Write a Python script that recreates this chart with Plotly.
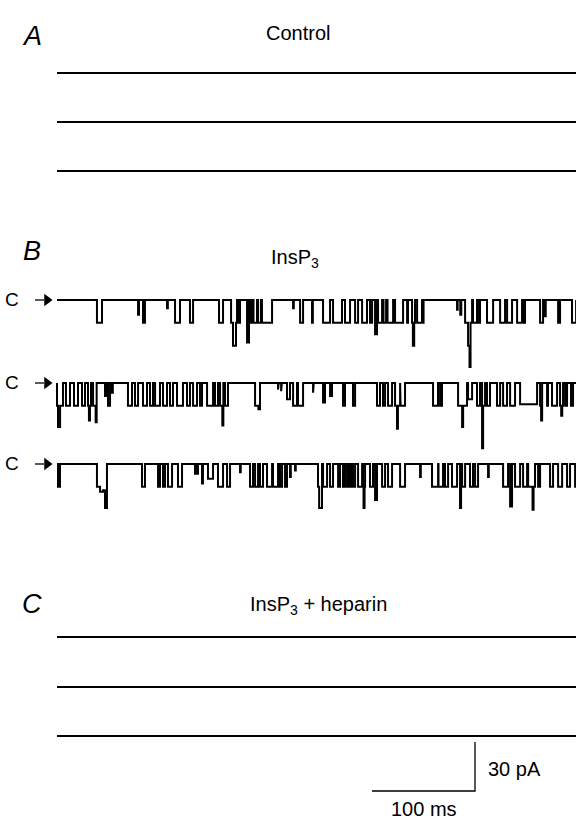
import plotly.graph_objects as go

# ---------------------------------------------------------------------------
# Single-channel current sweeps (ms, pA).  Each opening is (start_ms, end_ms, current_pA);
# the channel is closed (0 pA) between listed openings.
# ---------------------------------------------------------------------------
SWEEP_MS = 504

CONTROL_OPENINGS = [[], [], []]
HEPARIN_OPENINGS = [[], [], []]

INSP3_SWEEP_1 = [
    (38.8, 43.7, -14), (78.7, 79.6, -9), (83.5, 85.4, -14), (106.8, 107.6, -5),
    (114.6, 119.4, -14), (129.1, 132.1, -14), (157.3, 161.2, -14),
    (169.0, 170.9, -14), (170.9, 173.8, -28), (173.8, 174.8, -14),
    (175.8, 177.7, -14), (184.5, 186.4, -26), (187.4, 189.3, -14),
    (190.8, 194.2, -14), (195.2, 198.0, -14), (199.0, 208.8, -14),
    (229.2, 229.9, -5), (236.0, 238.9, -14), (247.6, 248.4, -14),
    (258.3, 265.1, -14), (268.0, 276.7, -14), (279.6, 284.5, -14),
    (289.4, 292.3, -14), (296.2, 301.0, -14), (303.9, 305.9, -14),
    (308.8, 310.7, -21), (311.7, 315.6, -14), (317.0, 319.5, -14),
    (320.9, 326.3, -14), (328.2, 336.0, -14), (339.9, 340.8, -14),
    (344.7, 345.5, -14), (345.5, 346.8, -28), (346.8, 347.6, -14),
    (349.6, 354.4, -14), (354.9, 355.9, -14), (388.4, 389.0, -6),
    (391.5, 392.5, -9), (396.2, 399.1, -14), (399.1, 400.5, -28),
    (400.5, 401.5, -41), (401.5, 403.0, -14), (403.9, 407.8, -14),
    (408.8, 410.7, -14), (417.5, 423.4, -14), (430.2, 435.0, -14),
    (437.0, 441.8, -14), (446.7, 451.5, -14), (452.5, 454.4, -14),
    (469.0, 471.9, -14), (473.8, 474.5, -10), (486.5, 488.4, -14),
    (500.0, 504.0, -14),
]

INSP3_SWEEP_2 = [
    (0.0, 1.0, -14), (1.0, 3.0, -27), (3.0, 5.8, -14), (8.7, 12.6, -14),
    (16.5, 20.4, -14), (24.3, 27.2, -14), (30.1, 31.0, -14), (31.0, 32.0, -23),
    (32.0, 33.0, -14), (35.0, 37.5, -14), (37.5, 38.5, -24), (46.6, 48.5, -8),
    (49.5, 51.5, -14), (53.4, 54.2, -6), (68.9, 72.8, -14), (75.7, 78.7, -14),
    (83.5, 87.4, -14), (90.3, 93.2, -14), (95.2, 100.0, -14), (102.9, 106.8, -14),
    (109.7, 112.6, -14), (116.5, 122.3, -14), (126.2, 129.1, -14),
    (132.1, 135.9, -14), (138.8, 140.8, -14), (145.7, 151.5, -14),
    (153.4, 156.3, -14), (158.3, 160.5, -14), (160.5, 161.5, -26),
    (163.1, 166.0, -14), (192.3, 195.5, -14), (195.5, 197.1, -16),
    (214.6, 215.3, -4), (217.6, 218.3, -5), (223.3, 226.2, -10),
    (229.2, 233.0, -14), (234.0, 238.9, -14), (248.6, 249.3, -6),
    (258.3, 260.2, -12), (265.1, 267.0, -8), (277.7, 279.6, -14),
    (287.4, 289.4, -14), (310.7, 313.6, -14), (316.5, 318.5, -14),
    (321.4, 325.3, -14), (328.2, 330.1, -14), (330.1, 331.0, -28),
    (331.0, 333.1, -14), (333.6, 337.9, -14), (365.1, 369.9, -14),
    (371.9, 373.8, -14), (389.4, 393.3, -14), (393.3, 394.3, -27),
    (394.3, 398.1, -14), (399.1, 403.0, -10), (407.8, 410.7, -14),
    (412.7, 413.7, -40), (413.7, 415.6, -14), (417.5, 420.4, -14),
    (427.2, 430.2, -14), (433.1, 436.9, -14), (439.9, 444.7, -14),
    (449.6, 466.1, -13), (469.0, 470.0, -14), (470.0, 471.0, -23),
    (475.8, 476.7, -14), (480.6, 485.5, -14), (488.4, 489.5, -14),
    (489.5, 490.5, -20), (490.5, 491.3, -14), (493.3, 495.2, -14),
    (499.0, 501.0, -14),
]

INSP3_SWEEP_3 = [
    (1.0, 2.9, -14), (38.8, 41.8, -14), (41.8, 44.7, -17), (44.7, 46.6, -16),
    (46.6, 48.5, -27), (82.5, 85.4, -14), (98.1, 100.0, -14), (102.9, 104.9, -14),
    (107.8, 111.7, -14), (117.5, 121.4, -14), (134.0, 134.7, -6),
    (135.9, 136.9, -6), (140.8, 141.7, -12), (146.6, 151.5, -9),
    (156.3, 161.2, -14), (165.1, 168.0, -14), (177.7, 178.4, -5),
    (187.4, 190.3, -14), (192.3, 195.2, -14), (197.1, 200.0, -14),
    (203.9, 208.8, -14), (209.7, 214.6, -14), (216.5, 218.5, -14),
    (221.4, 223.3, -14), (226.2, 227.0, -8), (231.1, 231.8, -4),
    (253.4, 254.5, -14), (254.5, 257.3, -27), (258.3, 262.2, -14),
    (265.1, 268.0, -14), (272.9, 274.8, -14), (277.7, 279.6, -14),
    (281.6, 282.6, -14), (284.5, 286.4, -14), (287.4, 289.4, -14),
    (292.3, 296.2, -14), (297.1, 297.6, -14), (297.6, 298.6, -27),
    (298.6, 299.1, -14), (303.9, 306.8, -14), (308.8, 310.7, -22),
    (315.6, 318.5, -14), (321.4, 325.3, -14), (333.1, 337.9, -14),
    (352.5, 353.2, -8), (364.1, 370.0, -14), (370.4, 374.8, -14),
    (376.7, 379.7, -14), (383.5, 388.4, -14), (391.3, 392.3, -27),
    (393.3, 396.2, -14), (401.0, 403.9, -14), (405.9, 408.8, -14),
    (418.5, 419.2, -8), (433.1, 437.9, -14), (439.9, 441.8, -26),
    (444.7, 449.6, -14), (452.5, 456.4, -14), (457.4, 461.7, -14),
    (461.7, 462.7, -28), (462.7, 464.1, -14), (467.1, 469.0, -14),
    (478.7, 481.6, -14), (486.5, 490.4, -14), (495.2, 498.1, -14),
    (503.0, 504.0, -14),
]

SCALE_MS = 100
SCALE_PA = 30

PANEL_LETTERS = ["A", "B", "C"]
PANEL_TITLES = ["Control", "InsP<sub>3</sub>", "InsP<sub>3</sub> + heparin"]
CLOSED_LABEL = "C"

# ---------------------------------------------------------------------------
# Page geometry
# ---------------------------------------------------------------------------
W, H = 576, 819
X0 = 57                  # sweep start on the page (px)
PX_PER_MS = 1.03
PX_PER_PA = 49 / 30

CONTROL_ROWS = [73, 122, 171]
INSP3_ROWS = [300, 383, 464]
HEPARIN_ROWS = [637, 687, 736]


def ms_at(px):
    return (px - X0) / PX_PER_MS


def pa_at(py):
    return -py / PX_PER_PA


def step_trace(openings, total):
    xs, ys, t = [0.0], [0.0], 0.0
    for s, e, a in openings:
        if s > t + 1e-9:
            xs += [t, s]
            ys += [0.0, 0.0]
        xs += [s, e]
        ys += [a, a]
        t = e
    xs += [t, total]
    ys += [0.0, 0.0]
    return xs, ys


fig = go.Figure()
FONT = "Liberation Sans, Arial, Helvetica, sans-serif"


def add_sweep(openings, row_px, width):
    xs, ys = step_trace(openings, SWEEP_MS)
    base = pa_at(row_px)
    fig.add_trace(go.Scatter(
        x=xs, y=[v + base for v in ys], mode="lines",
        line=dict(color="black", width=width, shape="linear"),
        hoverinfo="skip", showlegend=False,
    ))


for ops, row in zip(CONTROL_OPENINGS, CONTROL_ROWS):
    add_sweep(ops, row, 2.0)
for ops, row in zip([INSP3_SWEEP_1, INSP3_SWEEP_2, INSP3_SWEEP_3], INSP3_ROWS):
    add_sweep(ops, row, 2.0)
for ops, row in zip(HEPARIN_OPENINGS, HEPARIN_ROWS):
    add_sweep(ops, row, 2.0)

# closed-level arrows (shaft + filled head) in front of each InsP3 sweep
for row in INSP3_ROWS:
    fig.add_trace(go.Scatter(
        x=[ms_at(35), ms_at(44)], y=[pa_at(row), pa_at(row)], mode="lines",
        line=dict(color="black", width=1.3), hoverinfo="skip", showlegend=False,
    ))
    fig.add_trace(go.Scatter(
        x=[ms_at(47)], y=[pa_at(row)], mode="markers",
        marker=dict(symbol="triangle-right", size=11, color="black",
                    line=dict(width=0)),
        hoverinfo="skip", showlegend=False,
    ))

# scale bar: 100 ms x 30 pA, corner at the lower right
bar_x = ms_at(475)
bar_y = pa_at(791)
fig.add_trace(go.Scatter(
    x=[bar_x - SCALE_MS, bar_x, bar_x],
    y=[bar_y, bar_y, bar_y + SCALE_PA],
    mode="lines", line=dict(color="black", width=1.3),
    hoverinfo="skip", showlegend=False,
))

annotations = []
letter_rows = [36, 251, 604]
title_pos = [(298, 33), (295, 258), (318, 605)]
for letter, ly, title, (tx, ty) in zip(PANEL_LETTERS, letter_rows, PANEL_TITLES, title_pos):
    annotations.append(dict(
        x=ms_at(32), y=pa_at(ly), xref="x", yref="y", text=f"<i>{letter}</i>",
        showarrow=False, font=dict(family=FONT, size=27, color="black"),
        xanchor="center", yanchor="middle",
    ))
    annotations.append(dict(
        x=ms_at(tx), y=pa_at(ty), xref="x", yref="y", text=title,
        showarrow=False, font=dict(family=FONT, size=20, color="black"),
        xanchor="center", yanchor="middle",
    ))

for row in INSP3_ROWS:
    annotations.append(dict(
        x=ms_at(12), y=pa_at(row - 1), xref="x", yref="y", text=CLOSED_LABEL,
        showarrow=False, font=dict(family=FONT, size=19, color="black"),
        xanchor="center", yanchor="middle",
    ))

annotations.append(dict(
    x=ms_at(486), y=pa_at(769), xref="x", yref="y", text=f"{SCALE_PA} pA",
    showarrow=False, font=dict(family=FONT, size=20, color="black"),
    xanchor="left", yanchor="middle",
))
annotations.append(dict(
    x=ms_at(424), y=pa_at(809), xref="x", yref="y", text=f"{SCALE_MS} ms",
    showarrow=False, font=dict(family=FONT, size=20, color="black"),
    xanchor="center", yanchor="middle",
))

fig.update_layout(
    width=W, height=H,
    margin=dict(l=0, r=0, t=0, b=0),
    paper_bgcolor="white", plot_bgcolor="white",
    xaxis=dict(range=[ms_at(0), ms_at(W)], visible=False, fixedrange=True),
    yaxis=dict(range=[pa_at(H), pa_at(0)], visible=False, fixedrange=True),
    annotations=annotations,
    showlegend=False,
)

fig.write_html("out.html")
